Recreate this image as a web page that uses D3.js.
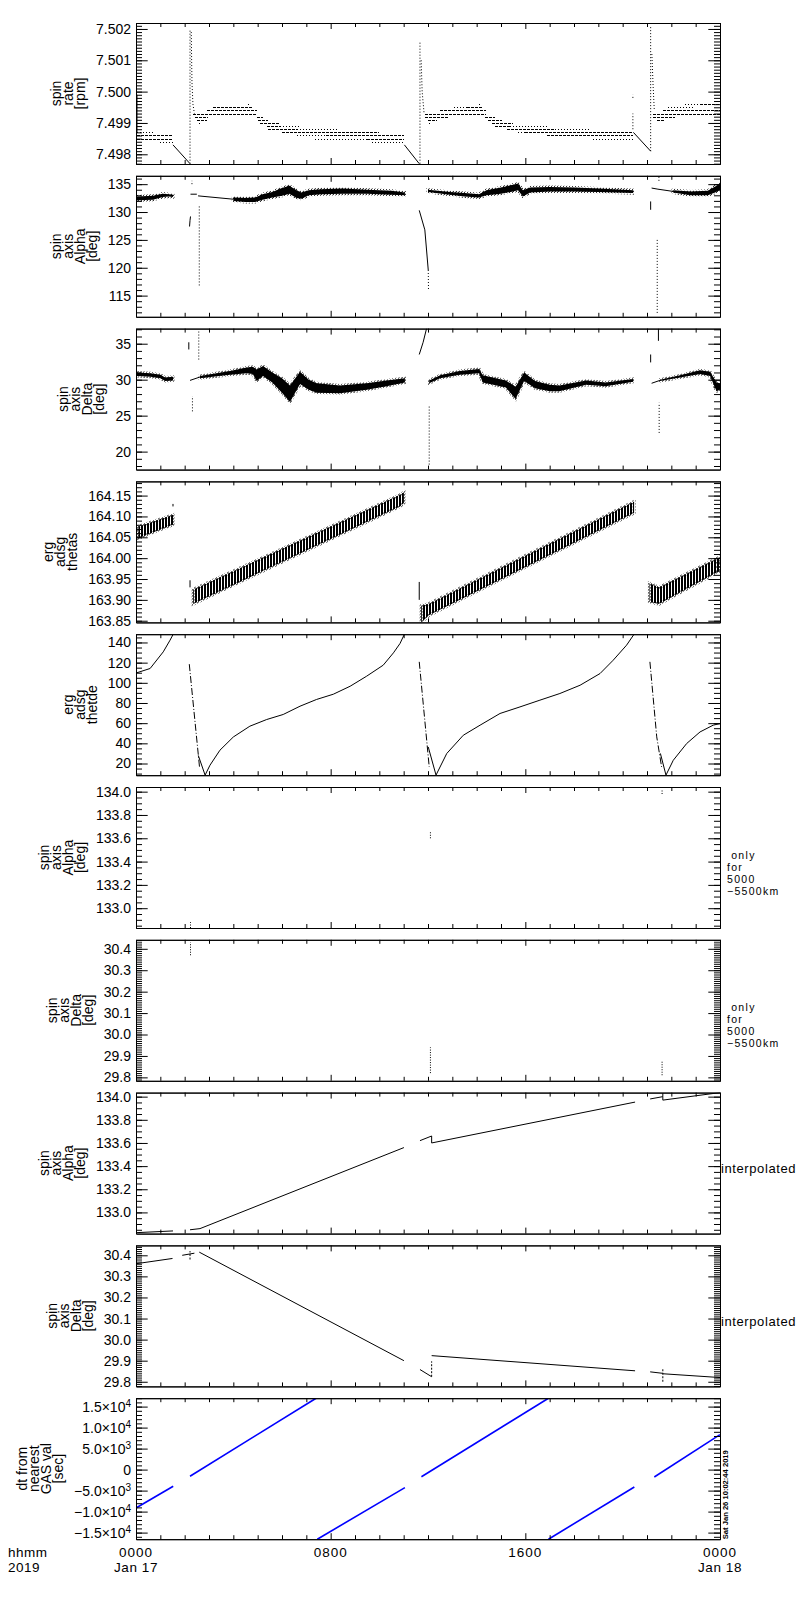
<!DOCTYPE html>
<html>
<head>
<meta charset="utf-8">
<script src="https://cdn.jsdelivr.net/npm/d3@7"></script>
<style>
  body { margin: 0; background: #fff; }
  text { font-family: "Liberation Sans", Arial, sans-serif; fill: #000; }
</style>
</head>
<body>
<svg id="chart"></svg>
<script>
// x axis: hours from 0000 Jan 17
const hourMajor = [0, 8, 16, 24]
const hourLabels = ['0000', '0800', '1600', '0000']
const dayLabels = ['Jan 17', '', '', 'Jan 18']
const axisCaption = ['hhmm', '2019']
const stamp = 'Sat Jan 26 10:02:44 2019'

const panelTitles = [
    ['spin', 'rate', '[rpm]'],
    ['spin', 'axis', 'Alpha', '[deg]'],
    ['spin', 'axis', 'Delta', '[deg]'],
    ['erg', 'adsg', 'thetas'],
    ['erg', 'adsg', 'thetde'],
    ['spin', 'axis', 'Alpha', '[deg]'],
    ['spin', 'axis', 'Delta', '[deg]'],
    ['spin', 'axis', 'Alpha', '[deg]'],
    ['spin', 'axis', 'Delta', '[deg]'],
    ['dt from', 'nearest', 'GAS val', '[sec]']
]
const onlyNote = [' only', 'for', '5000', '\u22125500km']
const interpNote = ['interpolated']

const yDomains = [
    [7.49769, 7.50219], [111.2, 136.5], [17.5, 37.1], [163.846, 164.184], [8.4, 148.2],
    [132.83, 134.04], [29.784, 30.442], [132.817, 134.035], [29.778, 30.447], [-16570, 17000]
]
const yMajorTicks = [
    [7.498, 7.499, 7.500, 7.501, 7.502],
    [115, 120, 125, 130, 135],
    [20, 25, 30, 35],
    [163.85, 163.90, 163.95, 164.00, 164.05, 164.10, 164.15],
    [20, 40, 60, 80, 100, 120, 140],
    [133.0, 133.2, 133.4, 133.6, 133.8, 134.0],
    [29.8, 29.9, 30.0, 30.1, 30.2, 30.3, 30.4],
    [133.0, 133.2, 133.4, 133.6, 133.8, 134.0],
    [29.8, 29.9, 30.0, 30.1, 30.2, 30.3, 30.4],
    [-15000, -10000, -5000, 0, 5000, 10000, 15000]
]
const yTickLabels = [
    ['7.498', '7.499', '7.500', '7.501', '7.502'],
    ['115', '120', '125', '130', '135'],
    ['20', '25', '30', '35'],
    ['163.85', '163.90', '163.95', '164.00', '164.05', '164.10', '164.15'],
    ['20', '40', '60', '80', '100', '120', '140'],
    ['133.0', '133.2', '133.4', '133.6', '133.8', '134.0'],
    ['29.8', '29.9', '30.0', '30.1', '30.2', '30.3', '30.4'],
    ['133.0', '133.2', '133.4', '133.6', '133.8', '134.0'],
    ['29.8', '29.9', '30.0', '30.1', '30.2', '30.3', '30.4'],
    null
]
const dtTickBase = ['\u22121.5\u00d710', '\u22121.0\u00d710', '\u22125.0\u00d710', '0', '5.0\u00d710', '1.0\u00d710', '1.5\u00d710']
const dtTickExp = ['4', '4', '3', '', '3', '4', '4']
const yMinorSteps = [0.0001, 1, 1, 0.01, 5, 0.05, 0.01, 0.05, 0.01, 1000]

// panel 1: spin rate, rows of quantised samples [t0, t1, rpm]
const rateDashed = [
    [0.04, 1.52, 7.4986], [0.04, 1.52, 7.4985],
    [2.34, 4.97, 7.4993], [2.92, 4.97, 7.4994], [3.16, 4.81, 7.4995], [2.42, 2.96, 7.4992], [2.5, 2.92, 7.4991],
    [4.97, 5.22, 7.4992], [5.01, 5.42, 7.4991], [5.1, 5.92, 7.4990], [5.38, 5.9, 7.4989], [5.42, 6.6, 7.4988],
    [6.0, 10.0, 7.4987], [7.8, 11.01, 7.4986], [9.5, 11.01, 7.4985],
    [11.88, 14.38, 7.4993], [12.49, 14.38, 7.4994], [13.6, 14.26, 7.4995], [11.88, 12.86, 7.4992], [12.0, 12.37, 7.4991],
    [14.34, 14.75, 7.4992], [14.47, 15.04, 7.4991], [14.63, 15.49, 7.4990], [14.75, 15.37, 7.4989],
    [15.25, 17.22, 7.4988], [15.98, 20.42, 7.4987], [16.89, 20.42, 7.4986],
    [21.25, 24, 7.4993], [21.66, 24, 7.4994], [23.18, 24, 7.4996], [21.25, 22.15, 7.4992], [21.41, 21.74, 7.4991]
]
const rateDotted = [
    [0.04, 0.78, 7.4987], [0.99, 1.52, 7.4984],
    [2.6, 2.67, 7.4990], [4.6, 4.7, 7.4996],
    [5.9, 6.74, 7.4989], [6.6, 8.3, 7.4988], [6.62, 7.8, 7.4986], [7.36, 9.5, 7.4985], [9.7, 11.01, 7.4984],
    [13.07, 13.6, 7.4995], [14.1, 14.15, 7.4996], [12.06, 12.1, 7.4990],
    [15.37, 16.93, 7.4989], [17.22, 18.62, 7.4988], [15.7, 15.98, 7.4987], [18.78, 20.42, 7.4985],
    [21.86, 22.97, 7.4995], [22.56, 23.18, 7.4996]
]
const rateLines = [
    [[0.04, 7.4987], [0.04, 7.4999]],
    [[1.52, 7.4983], [2.22, 7.4977]],
    [[11.03, 7.4983], [11.64, 7.4977]],
    [[20.44, 7.4987], [21.15, 7.4981]]
]
const rateSpikes = [
    [[2.22, 7.4977], [2.22, 7.5020]],
    [[2.27, 7.5019], [2.3, 7.5003], [2.34, 7.4996], [2.4, 7.4993]],
    [[11.67, 7.4977], [11.67, 7.5016]],
    [[11.72, 7.5010], [11.76, 7.5000], [11.84, 7.4993]],
    [[20.42, 7.4988], [20.42, 7.4993]],
    [[20.42, 7.4998], [20.42, 7.4999]],
    [[21.15, 7.4981], [21.15, 7.5021]],
    [[21.2, 7.5012], [21.25, 7.5002], [21.3, 7.4994]]
]

// panel 2: spin axis alpha [t, low, high] bands + lines
const alphaBands = [
    [[0.04, 132.1, 132.8], [0.7, 132.2, 132.9], [1.1, 132.7, 133.3], [1.35, 132.8, 133.2], [1.52, 132.7, 133.1]],
    [[4.0, 132.0, 132.6], [4.5, 131.8, 132.5], [4.9, 131.8, 132.6], [5.2, 132.2, 133.2], [5.6, 132.6, 133.6],
     [6.0, 132.9, 134.3], [6.3, 133.3, 134.7], [6.6, 132.5, 133.9], [6.8, 132.4, 133.5], [7.1, 133.0, 133.9],
     [7.6, 133.2, 134.1], [8.5, 133.3, 134.2], [9.5, 133.3, 134.0], [10.5, 133.1, 133.8], [11.05, 133.0, 133.5]],
    [[12.0, 133.6, 134.0], [12.9, 133.1, 133.6], [13.5, 132.8, 133.4], [14.1, 132.6, 133.2], [14.4, 133.0, 133.9],
     [15.0, 133.3, 134.4], [15.4, 133.6, 134.8], [15.7, 133.9, 135.1], [15.9, 132.8, 133.9], [16.2, 133.5, 134.4],
     [17.0, 133.7, 134.5], [18.0, 133.7, 134.4], [19.0, 133.6, 134.2], [20.43, 133.4, 133.9]],
    [[22.07, 133.5, 133.9], [22.8, 133.0, 133.7], [23.5, 133.0, 133.8], [23.8, 133.5, 134.6], [24.0, 134.0, 135.0]]
]
const alphaLines = [
    [[2.24, 133.2], [2.5, 133.2]],
    [[2.55, 132.9], [4.0, 132.3]],
    [[21.19, 134.3], [21.45, 134.1], [22.07, 133.7]],
    [[2.2, 127.4], [2.22, 128.5], [2.24, 129.2]],
    [[11.64, 130.3], [11.87, 126.8], [12.01, 119.6]],
    [[21.15, 130.4], [21.15, 131.9]]
]
const alphaDotted = [
    [[2.6, 131.0], [2.6, 116.7]],
    [[12.01, 119.6], [12.02, 116.1]],
    [[21.42, 125], [21.42, 111.6]],
    [[2.3, 135.0], [2.3, 135.6]],
    [[12.04, 135.8], [12.04, 136.3]],
    [[21.49, 135.6], [21.49, 136.4]]
]

// panel 3: spin axis delta
const deltaBands = [
    [[0.04, 30.5, 31.0], [0.6, 30.4, 30.9], [1.0, 30.2, 30.7], [1.2, 29.8, 30.3], [1.52, 29.9, 30.4]],
    [[2.63, 30.2, 30.5], [3.86, 30.7, 31.2], [4.55, 30.9, 31.7], [4.8, 30.8, 31.8], [4.96, 29.8, 31.4],
     [5.22, 30.5, 31.9], [5.6, 29.6, 31.0], [6.0, 28.2, 30.2], [6.33, 26.9, 29.2], [6.74, 29.4, 31.1],
     [7.1, 28.6, 30.0], [7.43, 28.2, 29.5], [8.38, 28.1, 29.2], [9.48, 28.6, 29.5], [10.3, 29.1, 29.9], [11.05, 29.6, 30.2]],
    [[12.05, 29.5, 29.9], [12.5, 30.2, 30.6], [13.3, 30.7, 31.2], [14.1, 30.9, 31.5], [14.25, 29.6, 30.6],
     [15.2, 28.9, 29.9], [15.6, 27.3, 29.0], [15.95, 29.8, 31.0], [16.4, 28.8, 29.8], [17.0, 28.4, 29.3],
     [17.4, 28.4, 29.2], [18.5, 29.3, 29.9], [19.3, 29.1, 29.6], [20.43, 29.7, 30.1]],
    [[21.53, 29.8, 30.0], [22.36, 30.3, 30.6], [23.18, 30.8, 31.3], [23.59, 30.5, 31.1], [23.86, 28.4, 29.6], [24.0, 28.6, 29.5]]
]
const deltaLines = [
    [[2.22, 29.9], [2.63, 30.37]],
    [[11.64, 33.5], [11.8, 35.2], [11.94, 37.1]],
    [[2.17, 34.2], [2.17, 35.2]],
    [[21.15, 32.4], [21.15, 33.5]],
    [[21.47, 35.4], [21.47, 37.1]],
    [[21.19, 29.5], [21.53, 29.9]]
]
const deltaDotted = [
    [[2.32, 25.6], [2.32, 27.7]],
    [[2.58, 32.8], [2.58, 36.7]],
    [[12.05, 18.2], [12.05, 26.3]],
    [[21.5, 22.6], [21.5, 26.8]]
]

// panel 4: thetas sawtooth bands
const thetasBands = [
    [[0.1, 164.048, 164.076], [1.52, 164.08, 164.104]],
    [[2.35, 163.89, 163.925], [10.85, 164.124, 164.152], [11.01, 164.132, 164.158]],
    [[11.72, 163.846, 163.886], [12.04, 163.863, 163.891], [20.47, 164.108, 164.136]],
    [[21.1, 163.895, 163.94], [21.5, 163.89, 163.93], [24, 163.97, 164.003]]
]
const thetasLines = [
    [[2.22, 163.93], [2.22, 163.947]],
    [[11.64, 163.90], [11.64, 163.943]],
    [[1.52, 164.124], [1.52, 164.13]]
]

// panel 5: thetde
const thetdeLines = [
    [[0.04, 110], [0.58, 114.2], [1.12, 130.7], [1.4, 142.3], [1.53, 148.2]],
    [[2.56, 28], [2.84, 8.5], [3.04, 18.3], [3.45, 33.2], [4.0, 46.3], [4.68, 57], [5.37, 63.6], [6.05, 68.6],
     [6.74, 76.8], [7.42, 83.5], [8.11, 88.7], [8.8, 96.6], [9.48, 106.6], [10.16, 117.5], [10.58, 129.7],
     [10.85, 139], [11.03, 148.2]],
    [[12.01, 36.4], [12.33, 8.5], [12.77, 29.9], [13.45, 48], [14.14, 58], [14.96, 69.6], [15.78, 76.1],
     [16.6, 82.8], [17.42, 89.4], [18.25, 97.6], [19.07, 109.2], [19.61, 122.4], [20.16, 137.3], [20.47, 148.2]],
    [[21.55, 30], [21.78, 8.5], [22.08, 23.2], [22.63, 39.8], [23.18, 51.3], [23.72, 58], [24, 59.6]]
]
const thetdeDashed = [
    [[2.19, 118.5], [2.61, 16.6]],
    [[11.64, 120.8], [12.05, 16.6]],
    [[21.12, 120.8], [21.4, 46.4], [21.6, 16.6]]
]

// panels 6, 7: only for 5000-5500 km  [t, v0, v1]
const alphaOnlyMarks = [[2.24, 132.83, 132.88], [12.1, 133.60, 133.66], [21.62, 133.98, 134.02]]
const deltaOnlyMarks = [[2.24, 30.37, 30.43], [12.1, 29.82, 29.94], [21.62, 29.81, 29.88]]

// panels 8, 9: interpolated
const alphaInterp = [
    [[0, 132.825], [1.52, 132.84]],
    [[2.22, 132.85], [2.63, 132.86], [11.01, 133.56]],
    [[11.67, 133.62], [12.15, 133.66], [12.15, 133.60], [20.51, 133.953]],
    [[21.13, 133.98], [21.65, 134.0], [21.65, 133.97], [24, 134.035]],
    [[21.65, 134.0], [21.65, 134.03]]
]
const deltaInterp = [
    [[0, 30.36], [1.5, 30.385]],
    [[1.9, 30.40], [2.4, 30.41]],
    [[2.6, 30.415], [11.01, 29.90]],
    [[11.67, 29.858], [12.15, 29.824]],
    [[12.15, 29.924], [20.51, 29.852]],
    [[21.13, 29.847], [21.65, 29.84]],
    [[21.65, 29.838], [24, 29.82]]
]
const deltaInterpDashed = [
    [[2.22, 30.38], [2.22, 30.42]],
    [[12.15, 29.824], [12.15, 29.897]],
    [[21.65, 29.80], [21.65, 29.866]]
]

// panel 10: dt from nearest GAS value [sec]
const dtLines = [
    [[0, -9143], [1.53, -3976]],
    [[2.22, -1595], [7.4, 17000]],
    [[7.45, -16570], [11.05, -4300]],
    [[11.73, -1700], [16.95, 17000]],
    [[16.95, -16570], [20.48, -4140]],
    [[21.3, -1760], [24, 8333]]
]

const left = 136, right = 720, top0 = 23, pitch = 152.8, ph = 141

const svg = d3.select('#chart').attr('width', 800).attr('height', 1600)
svg.append('rect').attr('width', 800).attr('height', 1600).attr('fill', '#fff')

const defs = svg.append('defs')
defs.append('pattern').attr('id', 'hatch').attr('width', 3).attr('height', 4)
    .attr('patternUnits', 'userSpaceOnUse')
    .append('rect').attr('width', 2).attr('height', 4).attr('fill', '#000')
let speckle = defs.append('pattern').attr('id', 'speckle').attr('width', 3).attr('height', 3)
    .attr('patternUnits', 'userSpaceOnUse')
speckle.append('rect').attr('width', 1).attr('height', 1).attr('fill', '#000')
speckle.append('rect').attr('x', 2).attr('y', 1).attr('width', 1).attr('height', 1).attr('fill', '#000')

const x = d3.scaleLinear().domain([0, 24]).range([left, right])
const hourMinor = d3.range(0, 25).filter(h => h % 8 !== 0)

function minorTicks(domain, step) {
    let lo = Math.ceil(domain[0] / step - 1e-6), hi = Math.floor(domain[1] / step + 1e-6)
    return d3.range(lo, hi + 1).map(k => k * step)
}

function styleAxis(sel) {
    sel.attr('font-family', null).attr('font-size', null)
    sel.selectAll('.domain, .tick line').attr('stroke', '#000')
    sel.selectAll('.tick text').attr('fill', '#000').style('font-size', '14px')
}

function makePanel(i) {
    let top = top0 + i * pitch
    let g = svg.append('g').attr('transform', `translate(0,${top})`)
    let y = d3.scaleLinear().domain(yDomains[i]).range([ph, 0])

    g.append('clipPath').attr('id', 'clip' + i)
        .append('rect').attr('x', left).attr('y', 0).attr('width', right - left).attr('height', ph)
    let plot = g.append('g').attr('clip-path', `url(#clip${i})`)

    let minors = minorTicks(yDomains[i], yMinorSteps[i])
    let leftAxis = g.append('g').attr('transform', `translate(${left},0)`)
        .call(d3.axisLeft(y).tickValues(yMajorTicks[i]).tickSize(-11.7).tickSizeOuter(0).tickPadding(5)
            .tickFormat((d, k) => yTickLabels[i] ? yTickLabels[i][k] : ''))
        .call(styleAxis)
    g.append('g').attr('transform', `translate(${left},0)`)
        .call(d3.axisLeft(y).tickValues(minors).tickSize(-6).tickSizeOuter(0).tickFormat(''))
        .call(styleAxis)
    g.append('g').attr('transform', `translate(${right},0)`)
        .call(d3.axisRight(y).tickValues(yMajorTicks[i]).tickSize(-11.7).tickSizeOuter(0).tickFormat(''))
        .call(styleAxis)
    g.append('g').attr('transform', `translate(${right},0)`)
        .call(d3.axisRight(y).tickValues(minors).tickSize(-6).tickSizeOuter(0).tickFormat(''))
        .call(styleAxis)
    g.append('g')
        .call(d3.axisTop(x).tickValues(hourMajor).tickSize(-6).tickSizeOuter(0).tickFormat(''))
        .call(styleAxis)
    g.append('g')
        .call(d3.axisTop(x).tickValues(hourMinor).tickSize(-4).tickSizeOuter(0).tickFormat(''))
        .call(styleAxis)
    g.append('g').attr('transform', `translate(0,${ph})`)
        .call(d3.axisBottom(x).tickValues(hourMajor).tickSize(-6).tickSizeOuter(0).tickFormat(''))
        .call(styleAxis)
    g.append('g').attr('transform', `translate(0,${ph})`)
        .call(d3.axisBottom(x).tickValues(hourMinor).tickSize(-4).tickSizeOuter(0).tickFormat(''))
        .call(styleAxis)

    if (!yTickLabels[i]) {
        // exponent labels
        leftAxis.selectAll('.tick text').each(function (d, k) {
            let t = d3.select(this).text(null)
            t.append('tspan').text(dtTickBase[k])
            if (dtTickExp[k]) t.append('tspan').attr('dy', '-0.45em').style('font-size', '10px').text(dtTickExp[k])
        })
    }

    // stacked y title
    let bb = leftAxis.node().getBBox()
    let tx = left + bb.x - 11
    let lines = panelTitles[i]
    let title = g.append('text')
        .attr('transform', `translate(${tx},${ph / 2}) rotate(-90)`)
        .attr('text-anchor', 'middle')
        .style('font-size', '14px')
    lines.forEach((s, k) => {
        title.append('tspan').attr('x', 0).attr('y', (k - (lines.length - 1)) * 12).text(s)
    })

    return { g, plot, y, top }
}

function drawLines(p, y, data, opts = {}) {
    let line = d3.line().x(d => x(d[0])).y(d => y(d[1]))
    p.selectAll(null)
        .data(data)
        .join('path')
        .attr('d', line)
        .attr('fill', 'none')
        .attr('stroke', opts.color || '#000')
        .attr('stroke-width', opts.width || 1)
        .attr('stroke-dasharray', opts.dash || null)
}

function drawRows(p, y, data, dash) {
    p.selectAll(null)
        .data(data)
        .join('line')
        .attr('x1', d => x(d[0]))
        .attr('x2', d => x(d[1]))
        .attr('y1', d => Math.round(y(d[2])) + 0.5)
        .attr('y2', d => Math.round(y(d[2])) + 0.5)
        .attr('stroke', '#000')
        .attr('stroke-dasharray', dash)
        .attr('shape-rendering', 'crispEdges')
}

function drawBands(p, y, data, fill, edge) {
    let area = d3.area().x(d => x(d[0])).y0(d => y(d[1])).y1(d => y(d[2]))
    p.selectAll(null)
        .data(data)
        .join('path')
        .attr('d', area)
        .attr('fill', fill)
        .attr('stroke', edge)
        .attr('stroke-width', 3)
}

function drawMarks(p, y, data) {
    p.selectAll(null)
        .data(data)
        .join('line')
        .attr('x1', d => x(d[0]))
        .attr('x2', d => x(d[0]))
        .attr('y1', d => y(d[1]))
        .attr('y2', d => y(d[2]))
        .attr('stroke', '#000')
        .attr('stroke-dasharray', '1,1.5')
}

// notes to the right of a panel, one text per line
function sideNote(g, lines, xPos, y0, step, size, spacing) {
    g.selectAll(null)
        .data(lines)
        .join('text')
        .attr('x', xPos)
        .attr('y', (d, k) => y0 + k * step)
        .style('font-size', size + 'px')
        .style('letter-spacing', spacing + 'px')
        .style('white-space', 'pre')
        .text(d => d)
}

const panels = d3.range(10).map(makePanel)

// 1 spin rate
let P = panels[0]
drawRows(P.plot, P.y, rateDashed, '3,1')
drawRows(P.plot, P.y, rateDotted, '1,2')
drawLines(P.plot, P.y, rateLines)
drawLines(P.plot, P.y, rateSpikes, { dash: '1,2' })

// 2 alpha
P = panels[1]
drawBands(P.plot, P.y, alphaBands, '#000', 'url(#speckle)')
drawLines(P.plot, P.y, alphaLines)
drawLines(P.plot, P.y, alphaDotted, { dash: '1,2' })

// 3 delta
P = panels[2]
drawBands(P.plot, P.y, deltaBands, '#000', 'url(#speckle)')
drawLines(P.plot, P.y, deltaLines)
drawLines(P.plot, P.y, deltaDotted, { dash: '1,2' })

// 4 thetas
P = panels[3]
drawBands(P.plot, P.y, thetasBands, 'url(#hatch)', 'url(#speckle)')
drawLines(P.plot, P.y, thetasLines)

// 5 thetde
P = panels[4]
drawLines(P.plot, P.y, thetdeLines)
drawLines(P.plot, P.y, thetdeDashed, { dash: '7,2,1,2' })

// 6, 7 only for 5000-5500 km
P = panels[5]
drawMarks(P.plot, P.y, alphaOnlyMarks)
sideNote(P.g, onlyNote, 727, ph / 2 + 1, 12, 10.5, 1.3)
P = panels[6]
drawMarks(P.plot, P.y, deltaOnlyMarks)
sideNote(P.g, onlyNote, 727, ph / 2 + 1, 12, 10.5, 1.3)

// 8, 9 interpolated
P = panels[7]
drawLines(P.plot, P.y, alphaInterp)
sideNote(P.g, interpNote, 721, ph / 2 + 10, 12, 13, 0.6)
P = panels[8]
drawLines(P.plot, P.y, deltaInterp)
drawLines(P.plot, P.y, deltaInterpDashed, { dash: '2,1.5' })
sideNote(P.g, interpNote, 721, ph / 2 + 10, 12, 13, 0.6)

// 10 dt
P = panels[9]
drawLines(P.plot, P.y, dtLines, { color: '#0000ff', width: 1.6 })

// bottom time labels
const lastG = P.g
lastG.selectAll('.hour-label')
    .data(hourMajor)
    .join('text')
    .attr('class', 'hour-label')
    .attr('x', d => x(d))
    .attr('y', ph + 17.5)
    .attr('text-anchor', 'middle')
    .style('font-size', '13.5px')
    .style('letter-spacing', '1px')
    .text((d, i) => hourLabels[i])
lastG.selectAll('.day-label')
    .data(hourMajor.filter((d, i) => dayLabels[i]))
    .join('text')
    .attr('class', 'day-label')
    .attr('x', d => x(d))
    .attr('y', ph + 32.7)
    .attr('text-anchor', 'middle')
    .style('font-size', '13.5px')
    .style('letter-spacing', '0.6px')
    .text(d => dayLabels[hourMajor.indexOf(d)])
axisCaption.forEach((s, k) => {
    lastG.append('text').attr('x', 8).attr('y', ph + 17.5 + k * 15.2)
        .style('font-size', '13.5px').style('letter-spacing', '0.5px').text(s)
})

lastG.append('text')
    .attr('transform', `translate(727.5,${ph}) rotate(-90)`)
    .attr('textLength', 89)
    .attr('lengthAdjust', 'spacingAndGlyphs')
    .style('font-size', '7.5px')
    .style('font-weight', 'bold')
    .text(stamp)
</script>
</body>
</html>
